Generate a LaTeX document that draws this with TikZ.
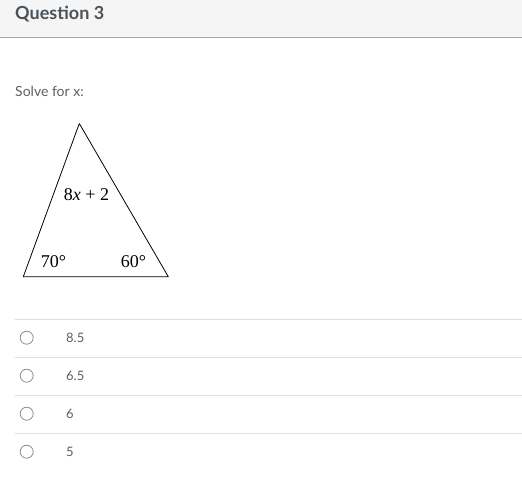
\documentclass[tikz,border=0pt]{standalone}
\usepackage{fontspec}
\setmainfont{Lato}
\newfontfamily\timesfont{Liberation Serif}
\usepackage{xcolor}
\definecolor{headbg}{HTML}{F5F5F5}
\definecolor{headline}{HTML}{A8A8A8}
\definecolor{headtext}{HTML}{4A5258}
\definecolor{bodytext}{HTML}{5A6066}
\definecolor{rule}{HTML}{DDDDDD}
\definecolor{radio}{HTML}{8A8A8A}

\begin{document}
\begin{tikzpicture}[x=1bp,y=-1bp,line join=bevel,
  answer/.style={anchor=west,inner sep=0pt,text=bodytext,font=\fontsize{13bp}{15bp}\selectfont},
  radiobtn/.style={draw=radio,circle,minimum size=13bp,inner sep=0pt,line width=0.8bp},
  angle/.style={inner sep=0pt,font=\timesfont\fontsize{18bp}{20bp}\selectfont},
  sep/.style={rule,line width=1bp},]
%%
\useasboundingbox (0,0) rectangle (522,483);
\fill [headbg] (0,0) rectangle (522,37);
\draw [headline,line width=1.2bp] (0,37.5) -- (522,37.5);
\node (title) at (15,14.5) [anchor=west,inner sep=0pt,text=headtext,font=\fontsize{18bp}{20bp}\selectfont\bfseries] {Question 3};
\node (prompt) at (15,91) [anchor=west,inner sep=0pt,text=bodytext,font=\fontsize{14bp}{16bp}\selectfont] {Solve for x:};
%
\coordinate (apex) at (79.3,123.5);
\coordinate (bl) at (23.3,276.7);
\coordinate (br) at (168.3,276.7);
\draw [line width=0.8bp] (apex) -- (br) -- (bl) -- cycle;
\node (top) at (86.5,195) [angle] {8\textit{x} + 2};
\node (a70) at (53.5,262) [angle] {70°};
\node (a60) at (133.5,262) [angle] {60°};
%
\draw [sep] (15,319.3) -- (522,319.3);
\draw [sep] (15,357.3) -- (522,357.3);
\draw [sep] (15,395.3) -- (522,395.3);
\draw [sep] (15,433.3) -- (522,433.3);
\node (r1) at (26.7,337.7) [radiobtn] {};
\node (r2) at (26.7,375.7) [radiobtn] {};
\node (r3) at (26.7,413.7) [radiobtn] {};
\node (r4) at (26.7,451.7) [radiobtn] {};
\node (o1) at (66,337.7) [answer] {8.5};
\node (o2) at (66,375.7) [answer] {6.5};
\node (o3) at (66,413.7) [answer] {6};
\node (o4) at (66,451.7) [answer] {5};
%
\end{tikzpicture}
\end{document}
